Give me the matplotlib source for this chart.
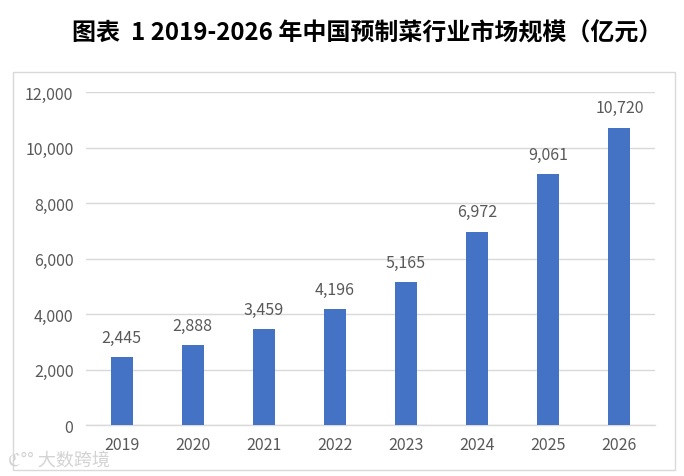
import matplotlib
matplotlib.use("Agg")
import matplotlib.pyplot as plt
from matplotlib.patches import Rectangle

years = ["2019", "2020", "2021", "2022", "2023", "2024", "2025", "2026"]
values = [2445, 2888, 3459, 4196, 5165, 6972, 9061, 10720]
yticks = [0, 2000, 4000, 6000, 8000, 10000, 12000]

plt.rcParams['font.family'] = ['Noto Sans CJK SC', 'DejaVu Sans']

fig = plt.figure(figsize=(6.84, 4.77), dpi=100)
fig.patch.set_facecolor("white")

# outer border box
fig.patches.append(Rectangle((0.019, 0.0126), 0.968, 0.834, transform=fig.transFigure,
                             fill=False, edgecolor="#d9d9d9", linewidth=1.0))

fig.text(0.537, 0.93, "图表  1 2019-2026 年中国预制菜行业市场规模（亿元）",
         ha="center", va="center", fontsize=17.3, fontweight="bold", color="black")

ax = fig.add_axes([0.1257, 0.1069, 0.8319, 0.6981])
x = range(len(years))
ax.bar(x, values, width=0.31, color="#4472C4", zorder=3)
for xi, v in zip(x, values):
    ax.annotate(f"{v:,}", (xi, v), xytext=(0, 8), textcoords="offset points",
                ha="center", va="bottom", fontsize=11.5, color="#595959")

ax.set_xlim(-0.5, len(years) - 0.5)
ax.set_ylim(0, 12000)
ax.set_yticks(yticks)
ax.set_yticklabels([f"{t:,}" for t in yticks])
ax.set_xticks(list(x))
ax.set_xticklabels(years)
ax.tick_params(axis="both", length=0, labelsize=11.5, labelcolor="#595959")
ax.tick_params(axis="y", pad=9)
ax.tick_params(axis="x", pad=8)
ax.grid(axis="y", color="#d9d9d9", linewidth=1.0, zorder=0)
for s in ["top", "right", "left"]:
    ax.spines[s].set_visible(False)
ax.spines["bottom"].set_color("#d9d9d9")
ax.spines["bottom"].set_linewidth(1.0)

# watermark
fig.text(0.012, 0.035, "ℭ°° 大数跨境", ha="left", va="center", fontsize=13,
         color="#cfcfcf", alpha=0.9)

fig.savefig("out.png", dpi=100, facecolor="white")
